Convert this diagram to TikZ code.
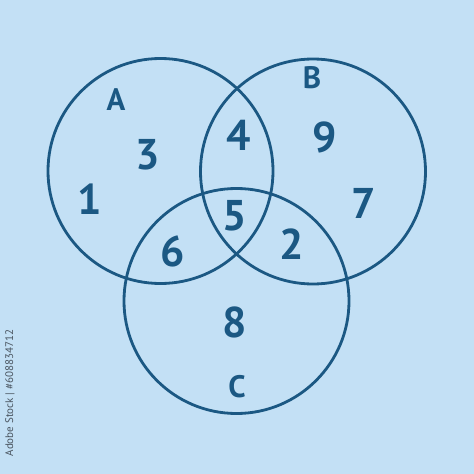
\documentclass[tikz,border=0pt]{standalone}
\usepackage{fontspec}
\setmainfont{PT Sans}
\definecolor{bgblue}{HTML}{C3E0F5}
\definecolor{inkblue}{HTML}{1B5883}
\definecolor{wmgray}{HTML}{4A5560}
\begin{document}
\begin{tikzpicture}[x=1pt,y=-1pt,
  venn/.style={circle, draw=inkblue, line width=2.8pt, minimum size=225pt, inner sep=0pt},
  num/.style={text=inkblue, font=\fontsize{43}{43}\selectfont\bfseries, inner sep=0pt},
  lbl/.style={text=inkblue, font=\fontsize{31}{31}\selectfont\bfseries, inner sep=0pt},
  wm/.style={text=wmgray, font=\fontsize{11}{11}\selectfont, inner sep=0pt, rotate=90}]
\fill[bgblue] (0,0) rectangle (474,474);
\useasboundingbox (0,0) rectangle (474,474);
\node[venn] (cA) at (160.5,171) {};
\node[venn] (cB) at (313,171.5) {};
\node[venn] (cC) at (236.5,301) {};
\node[lbl] (lA) at (116,100) {A};
\node[lbl] (lB) at (312,78) {B};
\node[lbl] (lC) at (237,387) {C};
\node[num] (n1) at (90,199) {1};
\node[num] (n3) at (148,155) {3};
\node[num] (n4) at (239,135) {4};
\node[num] (n9) at (325,137) {9};
\node[num] (n7) at (364,203) {7};
\node[num] (n5) at (235,216) {5};
\node[num] (n6) at (173,251) {6};
\node[num] (n2) at (292,244) {2};
\node[num] (n8) at (235,322) {8};
\node[wm] (wm) at (10,393) {Adobe Stock | \#608834712};
\end{tikzpicture}
\end{document}
